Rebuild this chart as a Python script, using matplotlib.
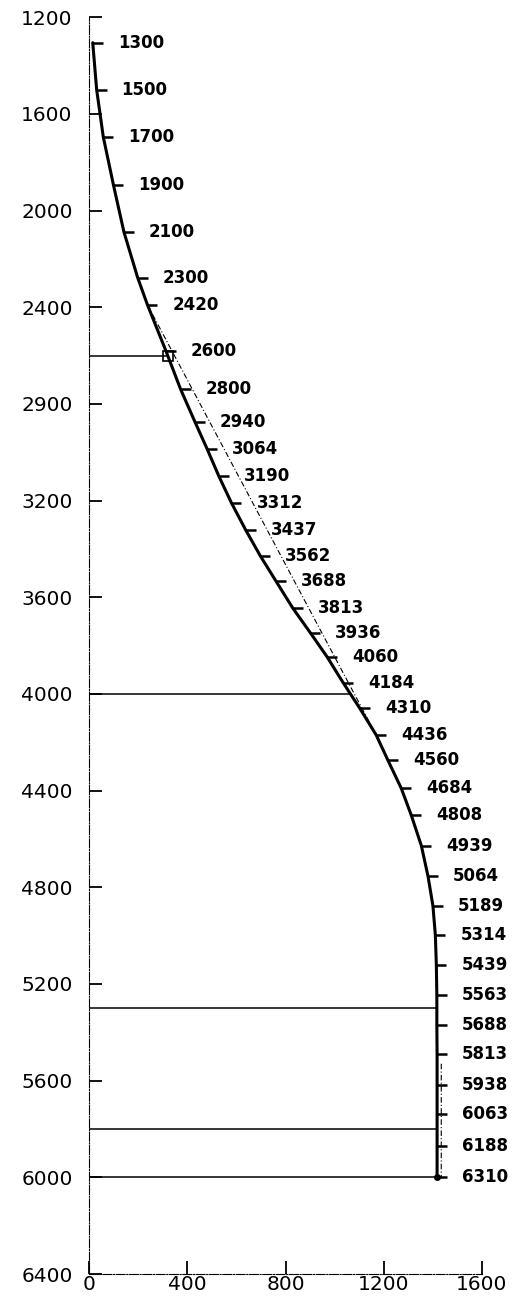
import numpy as np
import matplotlib
matplotlib.use("Agg")
import matplotlib.pyplot as plt

# stations along the well path: measured depth label, horizontal offset, vertical depth
station_md = ["1300", "1500", "1700", "1900", "2100", "2300", "2420", "2600",
              "2800", "2940", "3064", "3190", "3312", "3437", "3562", "3688",
              "3813", "3936", "4060", "4184", "4310", "4436", "4560", "4684",
              "4808", "4939", "5064", "5189", "5314", "5439", "5563", "5688",
              "5813", "5938", "6063", "6188", "6310"]
station_x = [14, 30, 57, 98, 141, 197, 237, 312,
             372, 430, 480, 528, 579, 637, 697, 760,
             828, 900, 968, 1034, 1102, 1169, 1217, 1271,
             1312, 1353, 1380, 1400, 1410, 1414, 1416, 1416,
             1417, 1417, 1417, 1417, 1417]
station_tvd = [1305, 1500, 1695, 1892, 2088, 2277, 2390, 2580,
               2739, 2873, 2986, 3099, 3209, 3321, 3429, 3532,
               3643, 3746, 3845, 3953, 4059, 4170, 4275, 4390,
               4502, 4628, 4754, 4876, 4998, 5122, 5246, 5368,
               5491, 5616, 5738, 5869, 6000]

# planned path (straight tangent section, and final vertical leg)
plan_x = [237, 1169, np.nan, 1434, 1434]
plan_tvd = [2390, 4170, np.nan, 5530, 6000]

# reference depths drawn across to the well
levels = [2600, 4000, 5300, 5800, 6000]

y_ticks = [1200, 1600, 2000, 2400, 2800, 3200, 3600, 4000, 4400, 4800, 5200, 5600, 6000, 6400]
y_labels = ["1200", "1600", "2000", "2400", "2900", "3200", "3600", "4000",
            "4400", "4800", "5200", "5600", "6000", "6400"]
x_ticks = [0, 400, 800, 1200, 1600]

W, H = 517, 1298
fig = plt.figure(figsize=(W / 100, H / 100), dpi=100)
ax = fig.add_axes([89.3 / W, 1 - 1274 / H, (482 - 89.3) / W, (1274 - 17.3) / H])
ax.set_xlim(0, 1600)
ax.set_ylim(6400, 1200)

for s in ["top", "right"]:
    ax.spines[s].set_visible(False)
for s in ["left", "bottom"]:
    ax.spines[s].set_linewidth(0.8)
    ax.spines[s].set_linestyle((0, (8, 1.5, 1, 1.5)))

ax.set_yticks(y_ticks)
ax.set_yticklabels(y_labels)
ax.set_xticks(x_ticks)
ax.tick_params(axis="y", direction="in", length=9.5, width=1.3, pad=12,
               labelsize=14.5, colors="black")
ax.tick_params(axis="x", direction="in", length=9.5, width=1.3, pad=1,
               labelsize=14.5, colors="black")

sx = np.array(station_x, dtype=float)
sy = np.array(station_tvd, dtype=float)

# horizontal reference lines, ending on the well path
ends = np.interp(levels, sy, sx)
ax.hlines(levels, 0, ends, color="black", lw=1.1)

# planned path
ax.plot(plan_x, plan_tvd, color="black", lw=0.8, linestyle=(0, (5, 2, 1, 2)))

# actual path
ax.plot(sx, sy, color="black", lw=2.2, solid_capstyle="round")
ax.plot(sx, sy, linestyle="none", marker=1, ms=7.5, mew=1.8, color="black")
ax.plot(sx[-1], sy[-1], marker="o", ms=4, color="black")

# casing shoe marker at the first level
ax.plot(np.interp(levels[0], sy, sx), levels[0], marker="s", ms=7,
        mfc="none", mec="black", mew=1.2)

for lab, x, y in zip(station_md, sx, sy):
    ax.annotate(lab, (x, y), xytext=(18, 0), textcoords="offset points",
                ha="left", va="center", fontsize=12, fontweight="bold",
                family="DejaVu Sans")

fig.savefig("out.png", dpi=100, facecolor="white")
